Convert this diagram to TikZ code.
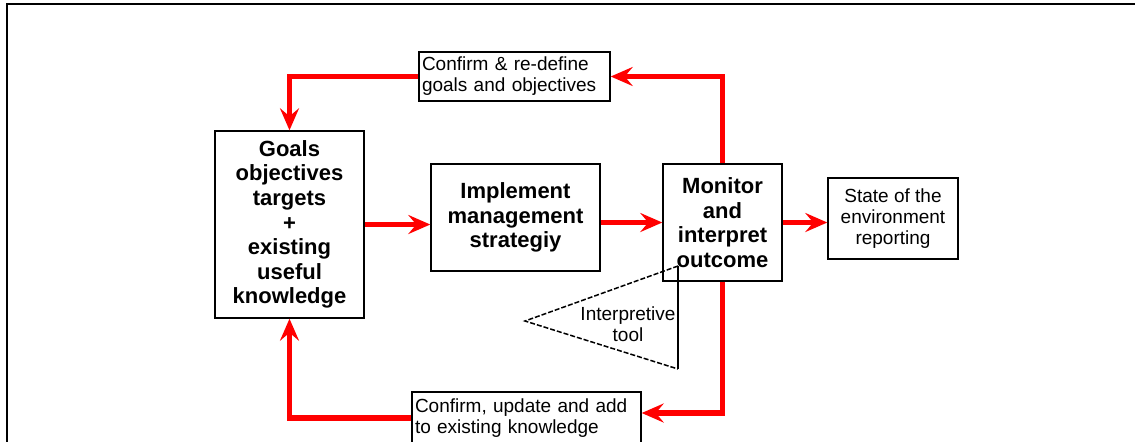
\documentclass[tikz,border=0pt]{standalone}
\usepackage{fontspec}
\setmainfont{Liberation Sans}
\usepackage{xcolor}
\definecolor{flowc}{HTML}{FF0000}
\definecolor{linec}{HTML}{000000}
\usepackage{tikz}
\usetikzlibrary{arrows.meta,positioning,calc}
\tikzset{
  >={Stealth[length=11pt,width=9.5pt,inset=4pt]},
  box/.style={draw=linec,line width=0.7pt,fill=white,inner sep=1pt,align=center,font=\bfseries\fontsize{11}{12.3}\selectfont},
  sbox/.style={draw=linec,line width=0.7pt,fill=white,inner sep=1.5pt,align=center,font=\fontsize{9.5}{10.5}\selectfont},
  lbox/.style={sbox,align=left},
  flow/.style={->,line width=2.6pt,draw=flowc},
  tri/.style={draw=linec,line width=0.75pt},
  tritxt/.style={font=\fontsize{9.5}{10.5}\selectfont,align=center,inner sep=0pt},
  frame/.style={draw=linec,line width=1.3pt},
}
\begin{document}
\begin{tikzpicture}[x=0.5pt,y=-0.5pt]
  \useasboundingbox (0,0) rectangle (1135,441);
  % outer frame
  \draw[frame] (7,450) -- (7,4) -- (1145,4);
  % main boxes
  \node[box,minimum width=74.5pt,minimum height=93.5pt] (goals) at (289.5,224.5)
    {Goals\\objectives\\targets\\+\\existing\\useful\\knowledge};
  \node[box,minimum width=84.5pt,minimum height=53.5pt] (impl) at (515.5,217.5)
    {Implement\\management\\strategiy};
  \node[box,minimum width=59.5pt,minimum height=58.5pt] (monitor) at (722.5,222.5)
    {Monitor\\and\\interpret\\outcome};
  \node[sbox,minimum width=65pt,minimum height=40.5pt] (state) at (893,218.5)
    {State of the\\environment\\reporting};
  \node[lbox,text width=92.5pt,minimum height=24.5pt] (redefine) at (514.5,76.5)
    {Confirm \& re-define\\goals and objectives};
  \node[lbox,text width=111.5pt,minimum height=26pt] (update) at (526.5,418)
    {Confirm, update and add\\to existing knowledge};
  % interpretive tool
  \coordinate (tapex) at (525,321);
  \coordinate (ttop) at (678,266);
  \coordinate (tbot) at (678,369);
  \draw[tri,dash pattern=on 2.5pt off 1pt] (ttop) -- (tapex) -- (tbot);
  \draw[tri] (tbot) -- (ttop);
  \node[tritxt] (tooltxt) at (628,324) {Interpretive\\tool};
  % flows
  \draw[flow] (goals) -- (goals -| impl.west);
  \draw[flow] (impl.east |- monitor) -- (monitor.west);
  \draw[flow] (monitor) -- (monitor -| state.west);
  \draw[flow] (monitor.north) |- (redefine.east);
  \draw[flow] (redefine.west) -| (goals.north);
  \draw[flow] (monitor.south) |- ([yshift=2.5pt]update.east);
  \draw[flow] (update.west) -| (goals.south);
\end{tikzpicture}
\end{document}
